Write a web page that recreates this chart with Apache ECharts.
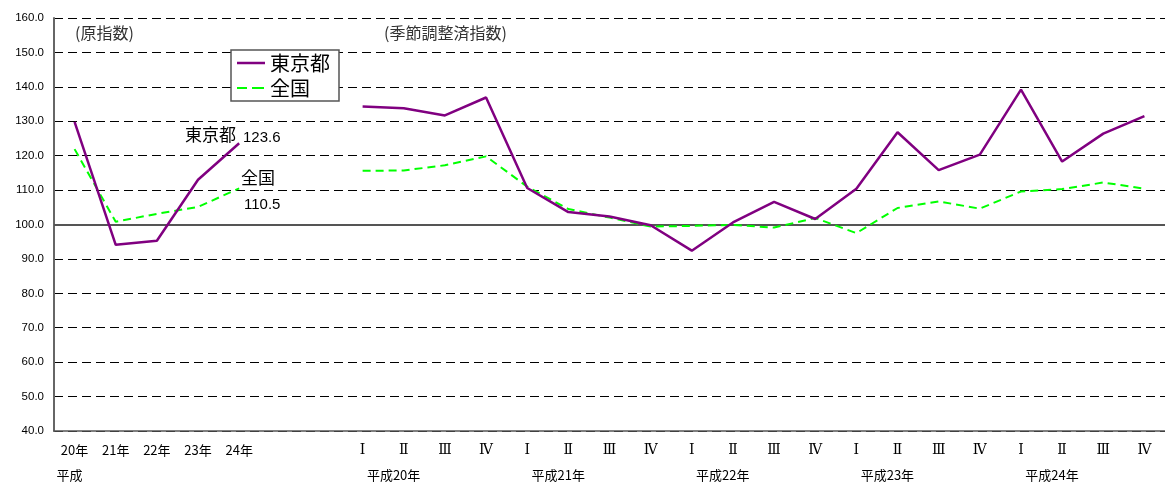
<!DOCTYPE html>
<html>
<head>
<meta charset="utf-8">
<script src="https://cdn.jsdelivr.net/npm/echarts@6/dist/echarts.min.js"></script>
<style>
html,body{margin:0;padding:0;background:#fff;}
#c{width:1165px;height:482px;}
</style>
</head>
<body>
<div id="c"></div>
<script>
// ---- data ----
var annualLabels = ['20年', '21年', '22年', '23年', '24年'];
var gapLabels = ['', ''];
var quarterLabels = ['Ⅰ','Ⅱ','Ⅲ','Ⅳ','Ⅰ','Ⅱ','Ⅲ','Ⅳ','Ⅰ','Ⅱ','Ⅲ','Ⅳ','Ⅰ','Ⅱ','Ⅲ','Ⅳ','Ⅰ','Ⅱ','Ⅲ','Ⅳ'];
var yearGroupLabels = ['平成20年', '平成21年', '平成22年', '平成23年', '平成24年'];
var eraLabel = '平成';

var tokyoAnnual = [129.8, 94.1, 95.3, 113.0, 123.6];
var zenkokuAnnual = [121.9, 100.8, 103.1, 105.1, 110.5];

var tokyoQuarter = [134.3, 133.8, 131.7, 136.9, 110.6, 103.6, 102.3, 99.8, 92.4, 100.6, 106.6, 101.6, 110.4, 126.8, 115.8, 120.3, 139.2, 118.3, 126.4, 131.5];
var zenkokuQuarter = [115.6, 115.7, 117.2, 119.8, 111.0, 104.5, 102.0, 99.4, 99.6, 99.9, 99.1, 101.9, 97.5, 104.8, 106.7, 104.6, 109.6, 110.3, 112.2, 110.4];

var yTicks = {min: 40, max: 160, interval: 10};

// ---- build ----
var categories = annualLabels.concat(gapLabels, quarterLabels);
var gapNulls = gapLabels.map(function(){ return null; });
var tokyoData = tokyoAnnual.concat(gapNulls, tokyoQuarter);
var zenkokuData = zenkokuAnnual.concat(gapNulls, zenkokuQuarter);
var qStart = annualLabels.length + gapLabels.length;

var chart = echarts.init(document.getElementById('c'));
var cjk = '"Noto Sans CJK JP", "Liberation Sans", sans-serif';

var solidIcon = 'path://M0,0L0,0ZM28,14L28,14ZM0,5.8L28,5.8L28,8.2L0,8.2Z';
var dashIcon = 'path://M0,0L0,0ZM28,14L28,14ZM0,6L10,6L10,8L0,8ZM15,6L27,6L27,8L15,8Z';

chart.setOption({
  animation: false,
  backgroundColor: '#fff',
  grid: {left: 54, right: -6, top: 18, bottom: 51, containLabel: false},
  legend: {
    orient: 'vertical',
    left: 231, top: 50,
    padding: [3, 9, 3, 6],
    itemGap: 5,
    itemWidth: 28, itemHeight: 14,
    backgroundColor: '#fff',
    borderColor: '#555', borderWidth: 1.5,
    textStyle: {fontSize: 20, color: '#000', fontFamily: cjk},
    data: [
      {name: '東京都', icon: solidIcon},
      {name: '全国', icon: dashIcon}
    ]
  },
  xAxis: {
    type: 'category',
    data: categories,
    boundaryGap: true,
    axisLine: {show: true, lineStyle: {color: '#555', width: 1.5}},
    axisTick: {show: false},
    splitLine: {show: false},
    axisLabel: {
      interval: 0,
      margin: 7,
      color: '#000',
      formatter: function(v, i) {
        if (i < annualLabels.length) {
          return i === 0 ? '{y|' + v + '}\n{era|' + eraLabel + '}' : '{y|' + v + '}';
        }
        if (i < qStart) return '';
        var k = i - qStart;
        if (k % 4 === 0) {
          return '{q|' + v + '}\n{yr|' + yearGroupLabels[k / 4] + '}';
        }
        return '{q|' + v + '}';
      },
      rich: {
        y: {fontSize: 13, fontFamily: cjk, color: '#000', lineHeight: 25},
        era: {fontSize: 13, fontFamily: cjk, color: '#000', lineHeight: 25, padding: [0, 10, 0, 0]},
        q: {fontSize: 14, fontFamily: '"DejaVu Serif", serif', color: '#000', lineHeight: 25},
        yr: {fontSize: 13, fontFamily: cjk, color: '#000', lineHeight: 25, padding: [0, 0, 0, 62]}
      }
    }
  },
  yAxis: {
    type: 'value',
    min: yTicks.min, max: yTicks.max, interval: yTicks.interval,
    axisLine: {show: true, lineStyle: {color: '#666', width: 2}},
    axisTick: {show: false},
    axisLabel: {
      margin: 10,
      color: '#000',
      fontSize: 11.5,
      fontFamily: '"Liberation Sans", Arial, sans-serif',
      formatter: function(v){ return v.toFixed(1); }
    },
    splitLine: {show: true, lineStyle: {color: '#000', width: 1, type: [9, 5]}}
  },
  series: [
    {
      name: '東京都',
      type: 'line',
      data: tokyoData,
      connectNulls: false,
      symbol: 'none',
      z: 3,
      lineStyle: {color: '#800080', width: 2.5},
      itemStyle: {color: '#800080'},
      markLine: {
        silent: true,
        symbol: 'none',
        label: {show: false},
        lineStyle: {color: '#555', width: 1.8, type: 'solid'},
        data: [{yAxis: 100}],
        z: 1
      }
    },
    {
      name: '全国',
      type: 'line',
      data: zenkokuData,
      connectNulls: false,
      symbol: 'none',
      z: 2,
      lineStyle: {color: '#00ff00', width: 2, type: [8, 5]},
      itemStyle: {color: '#00ff00'}
    }
  ],
  graphic: [
    {type: 'text', left: 75, top: 25, style: {text: '(原指数)', fill: '#333', font: '16px ' + cjk}},
    {type: 'text', left: 384, top: 25, style: {text: '(季節調整済指数)', fill: '#333', font: '16px ' + cjk}},
    {type: 'text', left: 185, top: 126, style: {text: '東京都', fill: '#000', font: '17px ' + cjk}},
    {type: 'text', left: 243, top: 130, style: {text: '123.6', fill: '#000', font: '15px "Liberation Sans", Arial, sans-serif'}},
    {type: 'text', left: 241, top: 169, style: {text: '全国', fill: '#000', font: '17px ' + cjk}},
    {type: 'text', left: 244, top: 197, style: {text: '110.5', fill: '#000', font: '15px "Liberation Sans", Arial, sans-serif'}}
  ]
});
</script>
</body>
</html>
